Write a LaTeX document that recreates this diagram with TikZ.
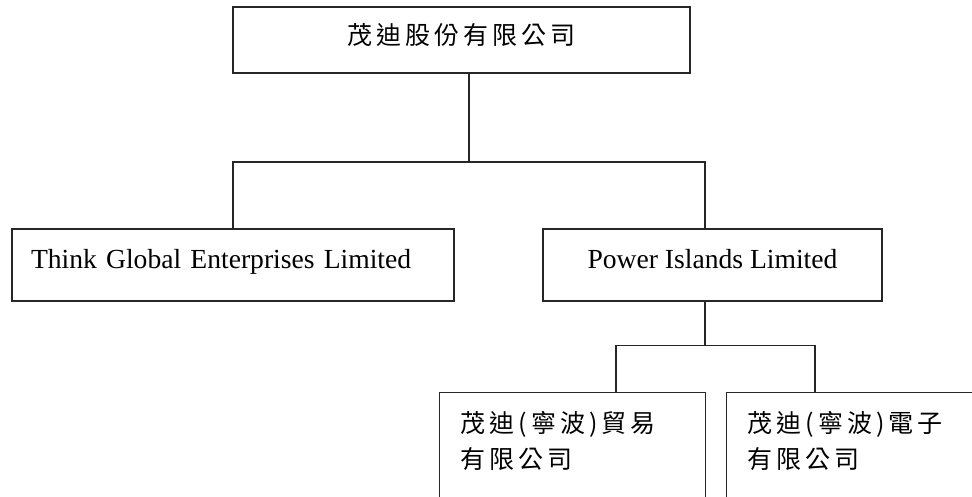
\documentclass[tikz,border=0pt]{standalone}
\usepackage{fontspec}
\setmainfont{Liberation Serif}
\newfontfamily\cjk[LetterSpace=16]{Noto Sans CJK TC}

\tikzset{
  box/.style={shape=rectangle,draw=black!85,line width=1.4pt,inner sep=0pt},
  link/.style={draw=black!85,line width=1.6pt},
  latin/.style={font=\fontsize{27.6}{33}\selectfont,text height=19pt,text depth=11pt},
  zh/.style={font=\cjk\fontsize{25}{36}\selectfont}
}

\begin{document}
\begin{tikzpicture}[x=1pt,y=-1pt]
\useasboundingbox (0,0) rectangle (972,497);
\node[box,zh,line width=1.8pt,minimum width=457pt,minimum height=66pt,text height=22pt,text depth=12pt] (MD) at (461.5,40) {茂迪股份有限公司};
\node[box,latin,minimum height=72pt,text width=404pt,inner xsep=19pt,align=left] (TG) at (233,265) {Think Global Enterprises Limited};
\node[box,latin,minimum width=339pt,minimum height=72pt] (PI) at (712.5,265) {Power Islands Limited};
\node[box,zh,anchor=north west,text width=224pt,inner xsep=21pt,text height=40pt,text depth=150pt,align=left] (TR) at (439,392) {茂迪(寧波)貿易\\有限公司};
\node[box,zh,anchor=north west,text width=224pt,inner xsep=21pt,text height=40pt,text depth=150pt,align=left] (EL) at (726,392) {茂迪(寧波)電子\\有限公司};
\coordinate (J1) at (469,162);
\coordinate (J2) at (705,162);
\coordinate (J3) at (705,345.5);
\coordinate (J4) at (616,345.5);
\coordinate (J5) at (815,345.5);
\draw [link] (MD.south -| J1) -- (J1);
\draw [link] (TG.north) |- (J2) -- (J2 |- PI.north);
\draw [link] (PI.south -| J3) -- (J3);
\draw [link] (J4 |- TR.north) |- (J5) -- (J5 |- EL.north);
\end{tikzpicture}
\end{document}
